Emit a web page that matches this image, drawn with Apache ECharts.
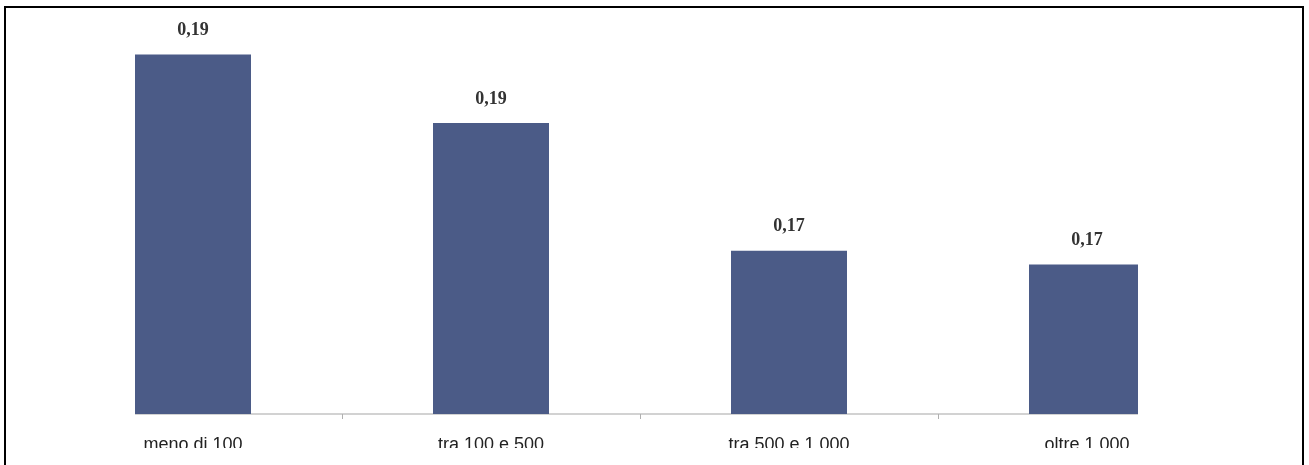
<!DOCTYPE html>
<html>
<head>
<meta charset="utf-8">
<script src="https://cdn.jsdelivr.net/npm/echarts@6/dist/echarts.min.js"></script>
<style>
  html, body { margin: 0; padding: 0; background: #fff; }
  #frame { position: absolute; left: 4px; top: 6px; width: 1300px; height: 470px;
           border-left: 2px solid #000; border-top: 2px solid #000; border-right: 2px solid #000; box-sizing: border-box; }
  #chart { position: absolute; left: 0; top: 0; width: 1309px; height: 465px;
           clip-path: inset(0px 171px 17px 135px); }
</style>
</head>
<body>
<div id="frame"></div>
<div id="chart"></div>
<script>
const categories = ["meno di 100", "tra 100 e 500", "tra 500 e 1.000", "oltre 1.000"];
const values = [0.1945, 0.186, 0.1702, 0.1685];
const axisMin = 0.15;
const axisMax = 0.20;

const chart = echarts.init(document.getElementById('chart'));
chart.setOption({
  animation: false,
  grid: { left: 44, right: 73, top: 10, bottom: 51, containLabel: false },
  xAxis: {
    type: 'category',
    data: categories,
    boundaryGap: true,
    axisLine: { lineStyle: { color: '#c4c4c4', width: 1.5 } },
    axisTick: { show: true, length: 5, lineStyle: { color: '#b0b0b0' } },
    axisLabel: { color: '#222', fontFamily: 'Liberation Sans', fontSize: 18, margin: 22 }
  },
  yAxis: {
    type: 'value',
    min: axisMin,
    max: axisMax,
    show: false,
    splitLine: { show: false }
  },
  series: [{
    type: 'bar',
    data: values,
    barWidth: 116,
    itemStyle: { color: '#4b5b87' },
    label: {
      show: true,
      position: 'top',
      distance: 15,
      color: '#333',
      fontFamily: 'Liberation Serif',
      fontWeight: 'bold',
      fontSize: 18,
      formatter: p => p.value.toFixed(2).replace('.', ',')
    }
  }]
});
</script>
</body>
</html>
